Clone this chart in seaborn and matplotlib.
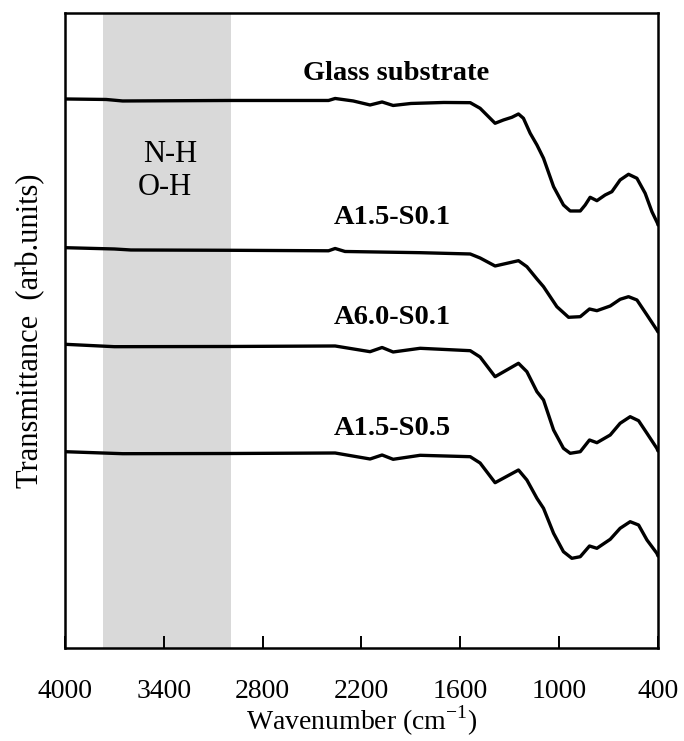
import numpy as np
import pandas as pd
import matplotlib
matplotlib.use("Agg")
import matplotlib.pyplot as plt
import seaborn as sns

# ---- data (wavenumber in cm^-1, transmittance in arb. units, offset stacked) ----
glass_wn = [4000, 3750, 3650, 3000, 2400, 2360, 2250, 2148, 2075, 2008, 1900, 1700, 1540,
            1480, 1389, 1338, 1287, 1247, 1217, 1176, 1135, 1095, 1034, 974, 933, 872, 842,
            812, 771, 721, 680, 630, 579, 528, 478, 437, 403, 400]
glass_t = [5.49, 5.485, 5.47, 5.475, 5.475, 5.495, 5.47, 5.43, 5.46, 5.425, 5.445, 5.455, 5.453,
           5.397, 5.247, 5.28, 5.307, 5.34, 5.297, 5.147, 5.03, 4.897, 4.613, 4.43, 4.37, 4.37, 4.43,
           4.507, 4.473, 4.53, 4.563, 4.68, 4.737, 4.697, 4.547, 4.363, 4.247, 4.23]

a15s01_wn = [4000, 3700, 3600, 3000, 2400, 2360, 2300, 1844, 1540, 1480, 1389, 1247, 1196,
             1135, 1095, 1014, 943, 872, 816, 771, 690, 630, 579, 528, 467, 407, 400]
a15s01_t = [4.003, 3.99, 3.98, 3.977, 3.972, 3.995, 3.965, 3.953, 3.94, 3.90, 3.82, 3.873, 3.813,
            3.69, 3.613, 3.413, 3.307, 3.313, 3.39, 3.373, 3.42, 3.487, 3.513, 3.48, 3.33, 3.18, 3.16]

a60s01_wn = [4000, 3700, 3000, 2360, 2148, 2075, 2008, 1844, 1540, 1480, 1389, 1247, 1196,
             1135, 1095, 1034, 974, 933, 872, 816, 771, 690, 630, 569, 518, 467, 407, 400]
a60s01_t = [3.037, 3.013, 3.015, 3.02, 2.963, 3.005, 2.96, 2.997, 2.973, 2.91, 2.713, 2.847, 2.763,
            2.563, 2.48, 2.18, 1.997, 1.947, 1.963, 2.08, 2.053, 2.13, 2.247, 2.313, 2.273, 2.147,
            1.997, 1.97]

a15s05_wn = [4000, 3650, 3000, 2360, 2148, 2075, 2008, 1844, 1540, 1480, 1389, 1247, 1196,
             1135, 1095, 1034, 974, 923, 872, 816, 771, 690, 630, 569, 518, 467, 407, 400]
a15s05_t = [1.963, 1.943, 1.945, 1.95, 1.89, 1.93, 1.887, 1.927, 1.913, 1.85, 1.653, 1.78, 1.68,
            1.497, 1.397, 1.147, 0.963, 0.897, 0.913, 1.02, 0.997, 1.087, 1.197, 1.263, 1.23, 1.08,
            0.947, 0.92]

sample_names = ["Glass substrate", "A1.5-S0.1", "A6.0-S0.1", "A1.5-S0.5"]
label_wn = [1990, 2014, 2014, 2014]
label_t = [5.74, 4.30, 3.30, 2.19]

band_range = [3770, 2990]
band_labels = ["N-H", "O-H"]
band_label_wn = [3362, 3395]
band_label_t = [4.93, 4.60]

xticks = [4000, 3400, 2800, 2200, 1600, 1000, 400]

# ---- build long table ----
frames = []
for name, wn, t in zip(sample_names,
                       [glass_wn, a15s01_wn, a60s01_wn, a15s05_wn],
                       [glass_t, a15s01_t, a60s01_t, a15s05_t]):
    frames.append(pd.DataFrame({"wn": wn, "T": t, "sample": name}))
df = pd.concat(frames, ignore_index=True)

sns.set_theme(style="white")
plt.rcParams["font.family"] = ["Liberation Serif", "DejaVu Serif"]
plt.rcParams["mathtext.fontset"] = "custom"
plt.rcParams["mathtext.rm"] = "Liberation Serif"
plt.rcParams["text.color"] = "black"
plt.rcParams["axes.labelcolor"] = "black"
plt.rcParams["xtick.color"] = "black"

fig = plt.figure(figsize=(6.84, 7.41), dpi=100)
ax = fig.add_axes([0.095, 0.1255, 0.867, 0.857])

ax.axvspan(band_range[0], band_range[1], color="#d9d9d9", lw=0, zorder=0)

sns.lineplot(data=df, x="wn", y="T", units="sample", estimator=None, sort=False,
             color="black", lw=2.4, ax=ax, legend=False)

for name, x, y in zip(sample_names, label_wn, label_t):
    ax.text(x, y, name, ha="center", va="center", fontsize=20.5, fontweight="bold",
            color="black")
for name, x, y in zip(band_labels, band_label_wn, band_label_t):
    ax.text(x, y, name, ha="center", va="center", fontsize=22, color="black")

ax.set_xlim(4000, 400)
ax.set_ylim(0, 6.35)
ax.set_xticks(xticks)
ax.set_xticklabels([str(v) for v in xticks])
ax.set_yticks([])
ax.tick_params(axis="x", bottom=True, direction="in", length=9, width=1.4, labelsize=20,
               pad=22, colors="black", labelcolor="black")
for s in ax.spines.values():
    s.set_color("black")
    s.set_linewidth(1.8)

ax.set_xlabel("Wavenumber (cm$^{\\mathregular{-1}}$)", fontsize=20, labelpad=0)
ax.set_ylabel("Transmittance  (arb.units)", fontsize=22, labelpad=14)

fig.savefig("out.png", dpi=100)
